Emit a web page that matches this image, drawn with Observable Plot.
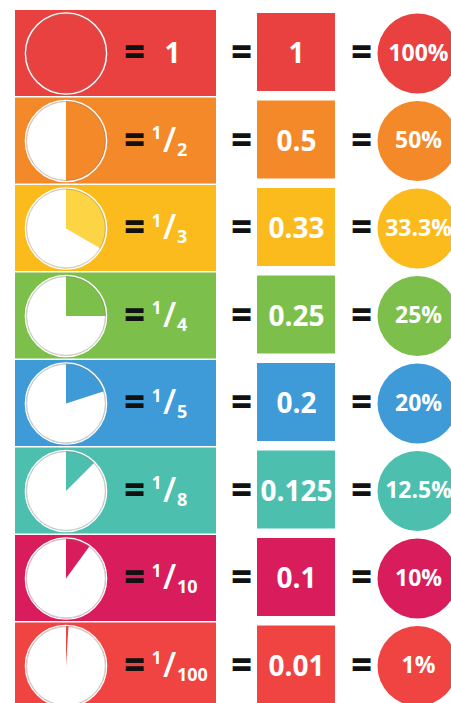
<!DOCTYPE html>
<html>
<head>
<meta charset="utf-8">
<script src="https://cdn.jsdelivr.net/npm/d3@7"></script>
<script src="https://cdn.jsdelivr.net/npm/@observablehq/plot@0.6"></script>
<style>
  html, body { margin: 0; padding: 0; background: #fff; overflow: hidden; }
  #chart svg { display: block; overflow: hidden; }
</style>
</head>
<body>
<div id="chart"></div>
<script>
// ---- data ----
const numerators   = [1, 1, 1, 1, 1, 1, 1, 1];
const denominators = [1, 2, 3, 4, 5, 8, 10, 100];
const decimals     = ["1", "0.5", "0.33", "0.25", "0.2", "0.125", "0.1", "0.01"];
const percents     = ["100%", "50%", "33.3%", "25%", "20%", "12.5%", "10%", "1%"];
const rowColors    = ["#E9413F", "#F4892A", "#FBBB1C", "#7DBF4B", "#3E9BD8", "#4DBFAE", "#D91C5B", "#EF4442"];
const wedgeColors  = ["#E9413F", "#F4892A", "#FDD443", "#7DBF4B", "#3E9BD8", "#4DBFAE", "#D91C5B", "#EF4442"];

// ---- layout constants ----
const W = 451, H = 703;
const top0 = 10, pitch = 87.5, rowH = 86;
const panelX1 = 15, panelX2 = 216;
const pieX = 65.5, pieR = 40;
const sqX1 = 257, sqX2 = 335;
const rcX = 417, rcR = 40;
const FONT = "Open Sans, Lato, DejaVu Sans, sans-serif";
const slashX = 169;   // centre of the fraction slash

const rows = denominators.map((den, i) => {
  const top = top0 + i * pitch;
  return {
    i, den, num: numerators[i],
    frac: numerators[i] / den,
    dec: decimals[i], pct: percents[i],
    color: rowColors[i], wedge: wedgeColors[i],
    top, cy: top + 43
  };
});

// wedge polygons (from 12 o'clock, clockwise)
const wedgePts = [];
for (const r of rows) {
  const a = 2 * Math.PI * r.frac;
  const n = Math.max(2, Math.ceil(120 * r.frac));
  if (r.frac < 1) wedgePts.push({i: r.i, x: pieX, y: r.cy, c: r.wedge});
  for (let k = 0; k <= n; k++) {
    const t = a * k / n;
    wedgePts.push({i: r.i, x: pieX + pieR * Math.sin(t), y: r.cy - pieR * Math.cos(t), c: r.wedge});
  }
}

const fracRows = rows.filter(r => r.den !== 1);
const wholeRows = rows.filter(r => r.den === 1);

const eq = (x) => Plot.text(rows, {x, y: "cy", text: () => "=", fill: "#111", fontSize: 36, fontWeight: 800, fontFamily: FONT, dy: -1});

const plot = Plot.plot({
  width: W, height: H,
  margin: 0,
  x: {domain: [0, W], range: [0, W], axis: null},
  y: {domain: [0, H], range: [0, H], axis: null},
  color: {type: "identity"},
  style: {background: "#fff"},
  marks: [
    // left panels
    Plot.rect(rows, {x1: panelX1, x2: panelX2, y1: "top", y2: d => d.top + rowH, fill: "color"}),
    // pie base (white)
    Plot.dot(rows, {x: pieX, y: "cy", r: pieR, fill: "#fff", stroke: null}),
    // pie wedge
    Plot.line(wedgePts, {x: "x", y: "y", z: "i", fill: "c", stroke: null, curve: "linear"}),
    // pie outline
    Plot.dot(rows, {x: pieX, y: "cy", r: pieR + 0.6, fill: null, stroke: "#fff", strokeWidth: 1.4}),
    Plot.dot(rows, {x: pieX, y: "cy", r: pieR - 0.6, fill: null, stroke: "#8a7f78", strokeOpacity: 0.55, strokeWidth: 0.8}),
    // equals signs
    eq(134), eq(241), eq(361),
    // whole-number value
    Plot.text(wholeRows, {x: 172, y: "cy", text: d => String(d.num), fill: "#fff", fontSize: 28, fontWeight: 700, fontFamily: FONT, dy: 1}),
    // fractions: numerator / slash / denominator
    Plot.text(fracRows, {x: slashX - 8, y: "cy", text: d => String(d.num), fill: "#fff", fontSize: 17, fontWeight: 700, fontFamily: FONT, textAnchor: "end", dy: -7}),
    Plot.text(fracRows, {x: slashX, y: "cy", text: () => "/", fill: "#fff", fontSize: 34, fontWeight: 600, fontFamily: FONT, dy: 0}),
    Plot.text(fracRows, {x: slashX + 7.5, y: "cy", text: d => String(d.den), fill: "#fff", fontSize: 18, fontWeight: 700, fontFamily: FONT, textAnchor: "start", dy: 9, letterSpacing: -1}),
    // decimal squares
    Plot.rect(rows, {x1: sqX1, x2: sqX2, y1: d => d.top + 3, y2: d => d.top + 81, fill: "color"}),
    Plot.text(rows, {x: (sqX1 + sqX2) / 2, y: "cy", text: "dec", fill: "#fff", fontSize: 28, fontWeight: 700, fontFamily: FONT, dy: 1}),
    // percent circles
    Plot.dot(rows, {x: rcX, y: "cy", r: rcR, fill: "color", stroke: null}),
    Plot.text(rows, {x: rcX + 1, y: "cy", text: "pct", fill: "#fff", fontSize: 23, fontWeight: 700, fontFamily: FONT, dy: 0, letterSpacing: 0.5})
  ]
});
document.getElementById("chart").appendChild(plot);
</script>
</body>
</html>
